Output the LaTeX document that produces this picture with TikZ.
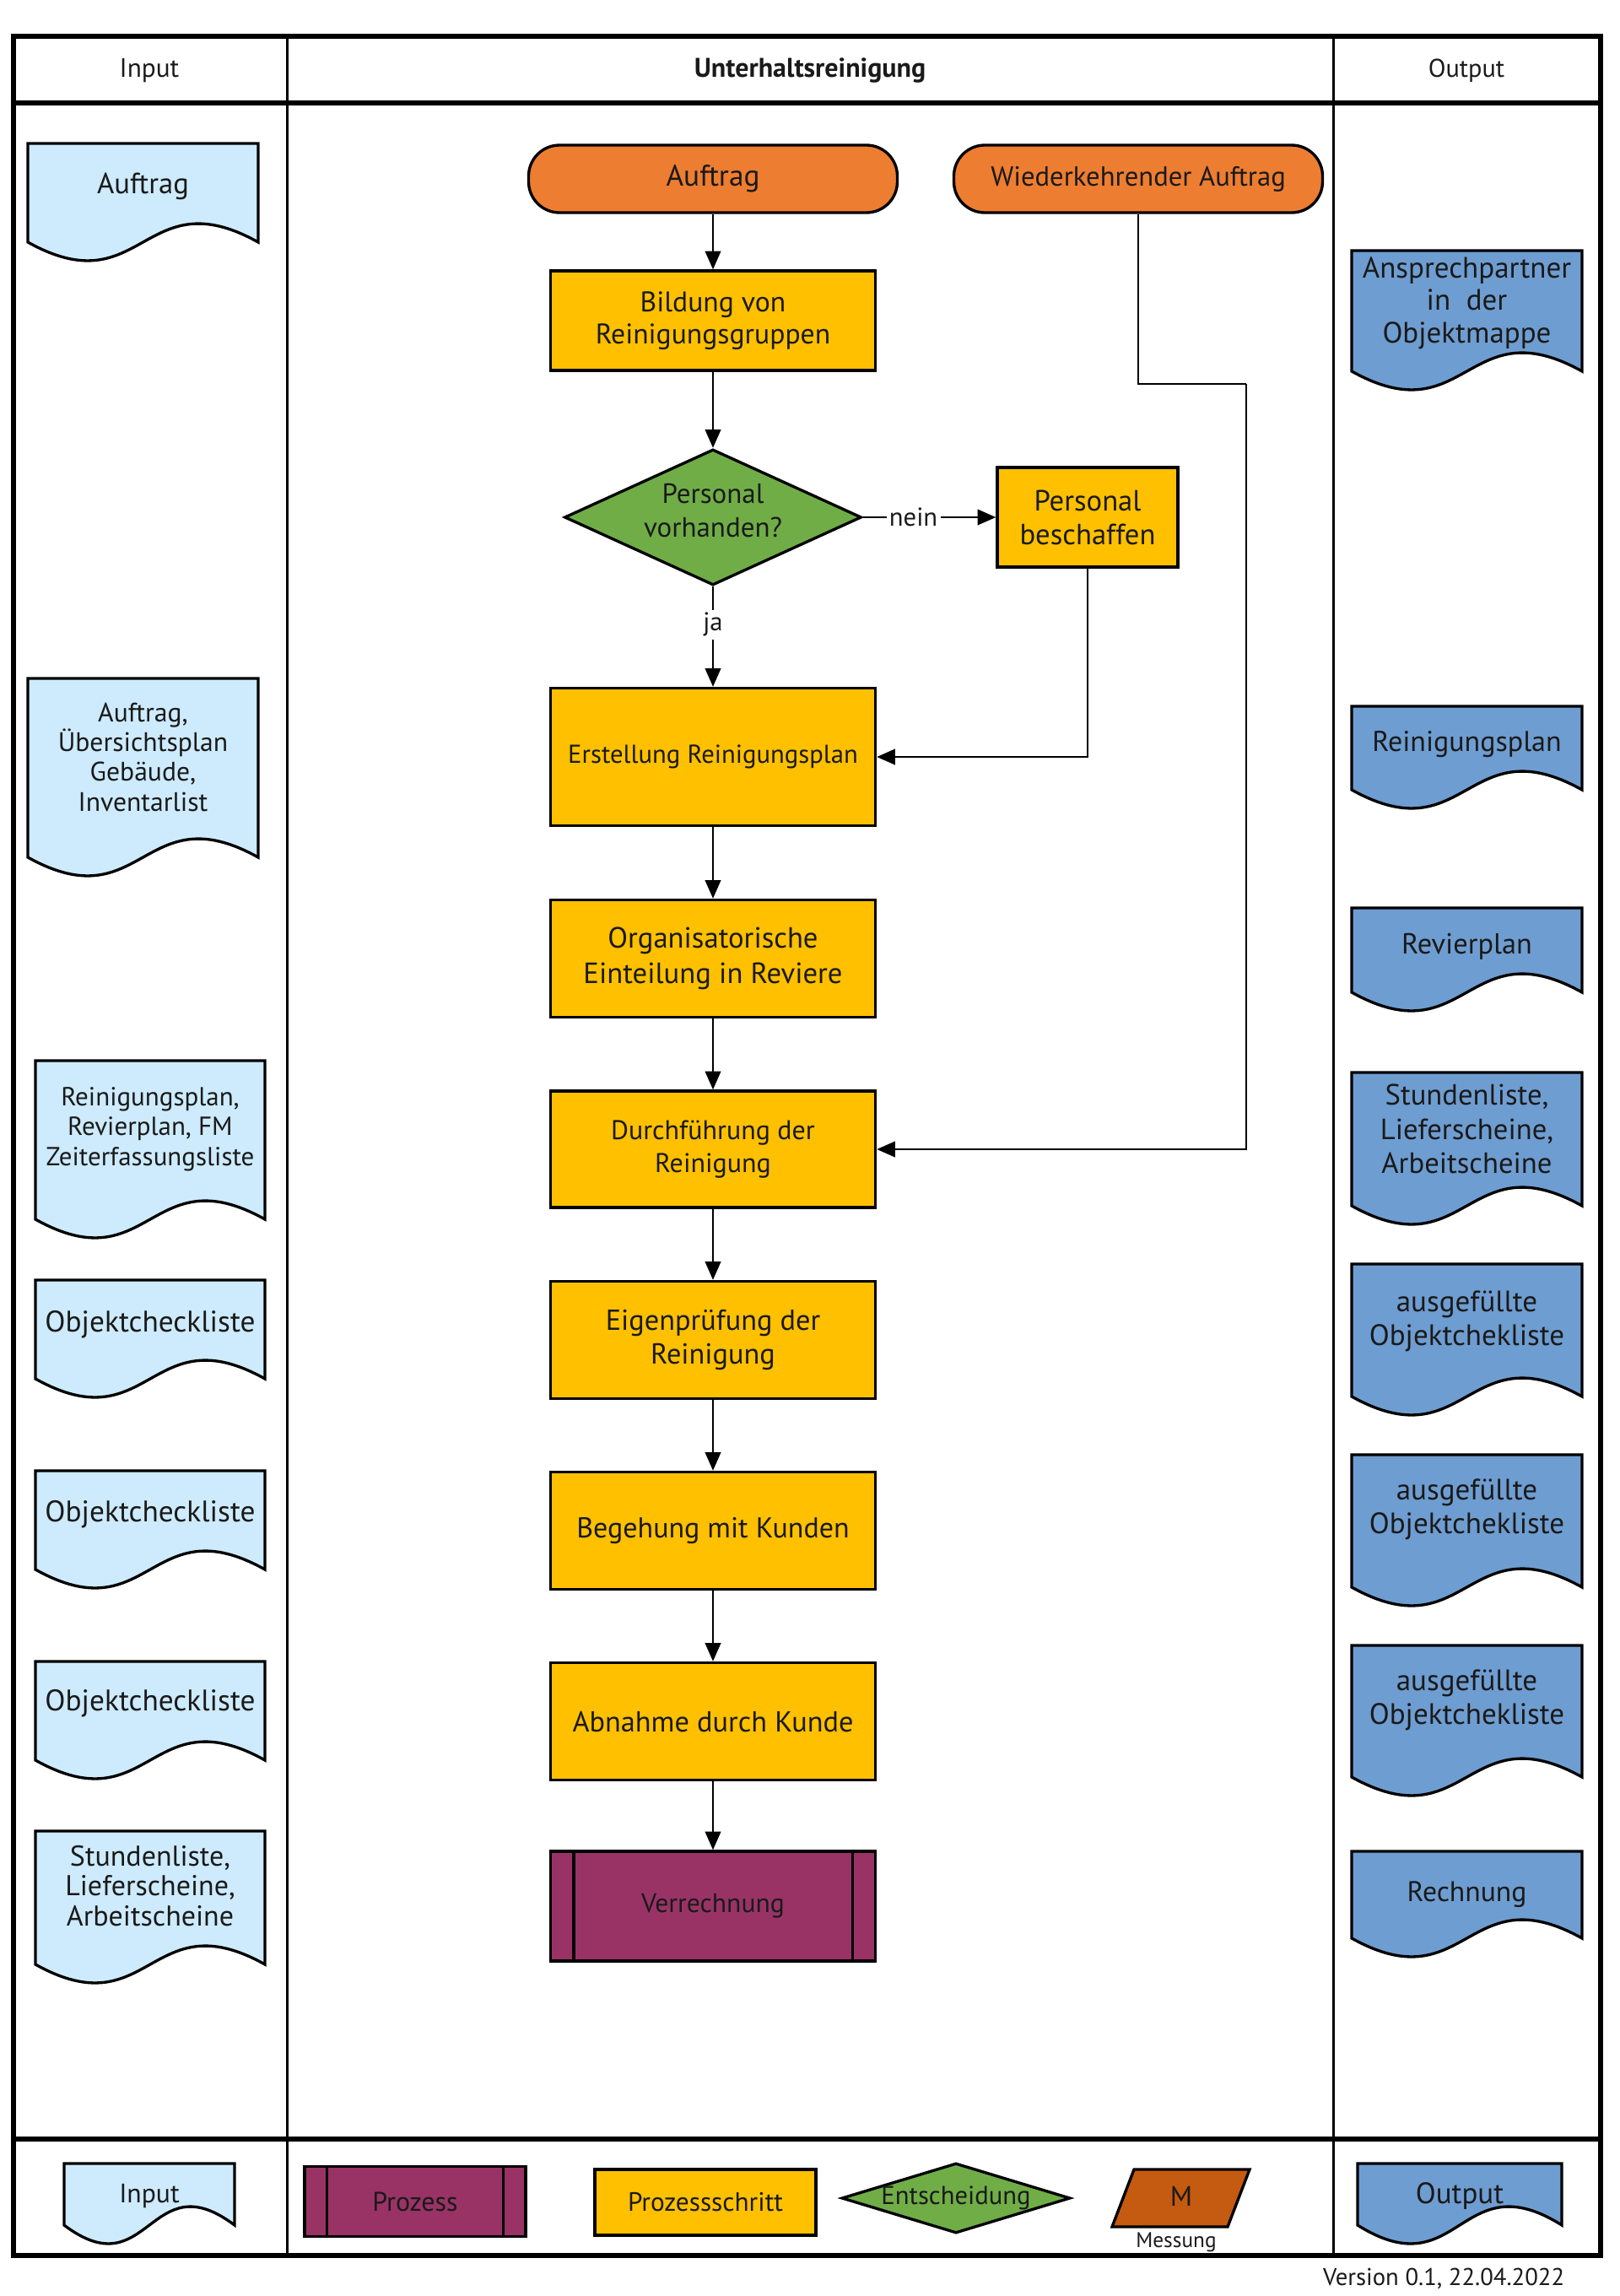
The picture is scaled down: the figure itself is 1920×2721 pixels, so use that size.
\documentclass[tikz,border=0pt]{standalone}
\usepackage{fontspec}
\setmainfont{PT Sans}
\usetikzlibrary{shapes.geometric,arrows.meta,calc}
\def\px{0.3pt}
\newcommand\fz[2]{\fontsize{#1}{#2}\selectfont}
\definecolor{inblue}{HTML}{CDEBFD}
\definecolor{outblue}{HTML}{6E9DD1}
\definecolor{termorange}{HTML}{ED7D31}
\definecolor{procyellow}{HTML}{FFC000}
\definecolor{decgreen}{HTML}{70AD47}
\definecolor{procpurple}{HTML}{993366}
\definecolor{measorange}{HTML}{C55A11}
\definecolor{txt}{HTML}{1A1A1A}
\newcommand\docnode[9]{%
  \pgfmathsetmacro\dR{#2+#4}%
  \pgfmathsetmacro\dB{#3+#5-22}%
  \pgfmathsetmacro\dM{#2+#4/2}%
  \pgfmathsetmacro\dU{\dB-76}%
  \pgfmathsetmacro\dD{\dB+76}%
  \draw[docline,fill=#6] (#2,#3) -- (\dR,#3) -- (\dR,\dB) .. controls (\dM,\dU) and (\dM,\dD) .. (#2,\dB) -- cycle;
  \node[doctext,font=#8] (#1) at (\dM,#7) {#9};
}
\begin{document}
\begin{tikzpicture}[x=0.3pt,y=-0.3pt,
  frame/.style={line width=1.6pt,draw=black},
  divider/.style={line width=0.9pt,draw=black},
  docline/.style={line width=1pt,draw=black},
  doctext/.style={align=center,text=txt,inner sep=1pt},
  box/.style={draw=black,line width=1pt,fill=procyellow,minimum width=385*\px,align=center,text=txt,inner sep=2pt},
  term/.style={draw=black,line width=1pt,fill=termorange,rounded corners=11pt,minimum width=437*\px,minimum height=80*\px,text=txt,font=\fz{10.6}{12}},
  dia/.style={diamond,draw=black,line width=1pt,fill=decgreen,inner sep=0pt,text=txt},
  arr/.style={line width=0.8pt,-{Triangle[length=6.5pt,width=5.5pt]}},
  line/.style={line width=0.8pt},
  lbl/.style={fill=white,inner sep=1pt,text=txt,font=\fz{9.2}{10}},
  head/.style={text=txt,font=\fz{9.4}{11}}
]
\useasboundingbox (0,0) rectangle (1920,2721);
% frame
\draw[frame] (16,43) rectangle (1897,2673);
\draw[frame] (16,122) -- (1897,122);
\draw[frame] (16,2535) -- (1897,2535);
\draw[divider] (340,43) -- (340,2673);
\draw[divider] (1580,43) -- (1580,2673);
\node[head] (hIn) at (177,84) {Input};
\node[head,font=\bfseries\fz{9.6}{11}] (hMain) at (960,84) {Unterhaltsreinigung};
\node[head,font=\fz{9.1}{11}] (hOut) at (1738,84) {Output};

% process nodes
\node[term] (auftragT) at (845,212) {Auftrag};
\node[term,font=\fz{9.8}{11}] (wiederT) at (1349,212) {Wiederkehrender Auftrag};
\node[box,minimum height=118*\px,font=\fz{10.1}{11.4}] (bildung) at (845,380) {Bildung von\\Reinigungsgruppen};
\node[dia,minimum width=352*\px,minimum height=161*\px,font=\fz{9.9}{12}] (dec) at (845,613)
  {\makebox[0pt]{\smash{\raisebox{-1pt}{\begin{tabular}{@{}c@{}}Personal\\vorhanden?\end{tabular}}}}};
\node[box,minimum width=214*\px,minimum height=118*\px,font=\fz{10.4}{12}] (beschaffen) at (1289,613) {Personal\\beschaffen};
\node[box,minimum height=163*\px,font=\fz{9.2}{10}] (erstellung) at (845,897) {Erstellung Reinigungsplan};
\node[box,minimum height=139*\px,font=\fz{10.4}{12.5}] (organis) at (845,1136) {Organisatorische\\Einteilung in Reviere};
\node[box,minimum height=138*\px,font=\fz{9.6}{11.5}] (durch) at (845,1362) {Durchführung der\\Reinigung};
\node[box,minimum height=139*\px,font=\fz{10.3}{12}] (eigen) at (845,1588) {Eigenprüfung der\\Reinigung};
\node[box,minimum height=139*\px,font=\fz{10.2}{12}] (begehung) at (845,1814) {Begehung mit Kunden};
\node[box,minimum height=139*\px,font=\fz{10.3}{12}] (abnahme) at (845,2040) {Abnahme durch Kunde};
\node[box,fill=procpurple,minimum height=130*\px,font=\fz{9.5}{11}] (verr) at (845,2259) {Verrechnung};
\draw[docline] ([xshift=29*\px]verr.north west) -- ([xshift=29*\px]verr.south west);
\draw[docline] ([xshift=-29*\px]verr.north east) -- ([xshift=-29*\px]verr.south east);

% connectors
\coordinate (w1) at (1477,455);
\draw[arr] (auftragT) -- (bildung);
\draw[arr] (bildung) -- (dec.north);
\draw[arr] (dec.east) -- node[lbl,pos=0.38] (nein) {nein} (beschaffen.west);
\draw[arr] (dec.south) -- node[lbl,pos=0.38] (ja) {ja} (erstellung.north);
\draw[arr] (beschaffen.south) |- (erstellung.east);
\draw[arr] (erstellung) -- (organis);
\draw[arr] (organis) -- (durch);
\draw[arr] (durch) -- (eigen);
\draw[arr] (eigen) -- (begehung);
\draw[arr] (begehung) -- (abnahme);
\draw[arr] (abnahme) -- (verr);
\draw[line] (wiederT.south) |- (w1);
\draw[arr] (w1) |- (durch.east);

% input documents
\docnode{in1}{33}{170}{273}{139}{inblue}{221}{\fz{10.4}{12}}{Auftrag}
\docnode{in2}{33}{804}{273}{234}{inblue}{897}{\fz{9.5}{10.6}}{Auftrag,\\Übersichtsplan\\Gebäude,\\Inventarlist}
\docnode{in3}{42}{1257}{272}{210}{inblue}{1338}{\fz{9.3}{10.7}}{Reinigungsplan,\\Revierplan, FM\\Zeiterfassungsliste}
\docnode{in4}{42}{1517}{272}{139}{inblue}{1570}{\fz{10.6}{12}}{Objektcheckliste}
\docnode{in5}{42}{1743}{272}{139}{inblue}{1795}{\fz{10.6}{12}}{Objektcheckliste}
\docnode{in6}{42}{1969}{272}{139}{inblue}{2019}{\fz{10.6}{12}}{Objektcheckliste}
\docnode{in7}{42}{2170}{272}{180}{inblue}{2235}{\fz{10.2}{10.7}}{Stundenliste,\\Lieferscheine,\\Arbeitscheine}

% output documents
\docnode{out1}{1602}{297}{273}{165}{outblue}{359}{\fz{10.5}{11.5}}{Ansprechpartner\\in~~der\\Objektmappe}
\docnode{out2}{1602}{837}{273}{121}{outblue}{882}{\fz{10.2}{11.5}}{Reinigungsplan}
\docnode{out3}{1602}{1076}{273}{122}{outblue}{1122}{\fz{10.3}{11.5}}{Revierplan}
\docnode{out4}{1602}{1271}{273}{180}{outblue}{1338}{\fz{10.4}{12.2}}{Stundenliste,\\Lieferscheine,\\Arbeitscheine}
\docnode{out5}{1602}{1498}{273}{179}{outblue}{1566}{\fz{10.5}{12}}{ausgefüllte\\Objektchekliste}
\docnode{out6}{1602}{1724}{273}{179}{outblue}{1789}{\fz{10.5}{12}}{ausgefüllte\\Objektchekliste}
\docnode{out7}{1602}{1950}{273}{178}{outblue}{2015}{\fz{10.5}{12}}{ausgefüllte\\Objektchekliste}
\docnode{out8}{1602}{2194}{273}{125}{outblue}{2245}{\fz{10.1}{11.5}}{Rechnung}

% legend
\docnode{legIn}{76}{2564}{202}{95}{inblue}{2603}{\fz{9.5}{10}}{Input}
\node[box,fill=procpurple,minimum width=262*\px,minimum height=83*\px,font=\fz{9.6}{10}] (legProz) at (492,2609) {Prozess};
\draw[docline] ([xshift=28*\px]legProz.north west) -- ([xshift=28*\px]legProz.south west);
\draw[docline] ([xshift=-28*\px]legProz.north east) -- ([xshift=-28*\px]legProz.south east);
\node[box,minimum width=262*\px,minimum height=78*\px,font=\fz{9.4}{10}] (legSchritt) at (836,2610) {Prozessschritt};
\node[dia,minimum width=271*\px,minimum height=83*\px,font=\fz{9.2}{10}] (legEnt) at (1133,2605) {\makebox[0pt]{Entscheidung}};
\draw[docline,fill=measorange] (1344,2571) -- (1481,2571) -- (1455,2639) -- (1318,2639) -- cycle;
\node[text=txt,font=\fz{10}{11}] (legM) at (1400,2603) {M};
\node[text=txt,font=\fz{7.6}{8}] (legMess) at (1394,2657) {Messung};
\docnode{legOut}{1609}{2564}{242}{95}{outblue}{2603}{\fz{10.5}{11}}{Output}
\node[anchor=east,text=txt,font=\fz{8.6}{9}] (ver) at (1866,2700) {Version 0.1, 22.04.2022};
\end{tikzpicture}
\end{document}
